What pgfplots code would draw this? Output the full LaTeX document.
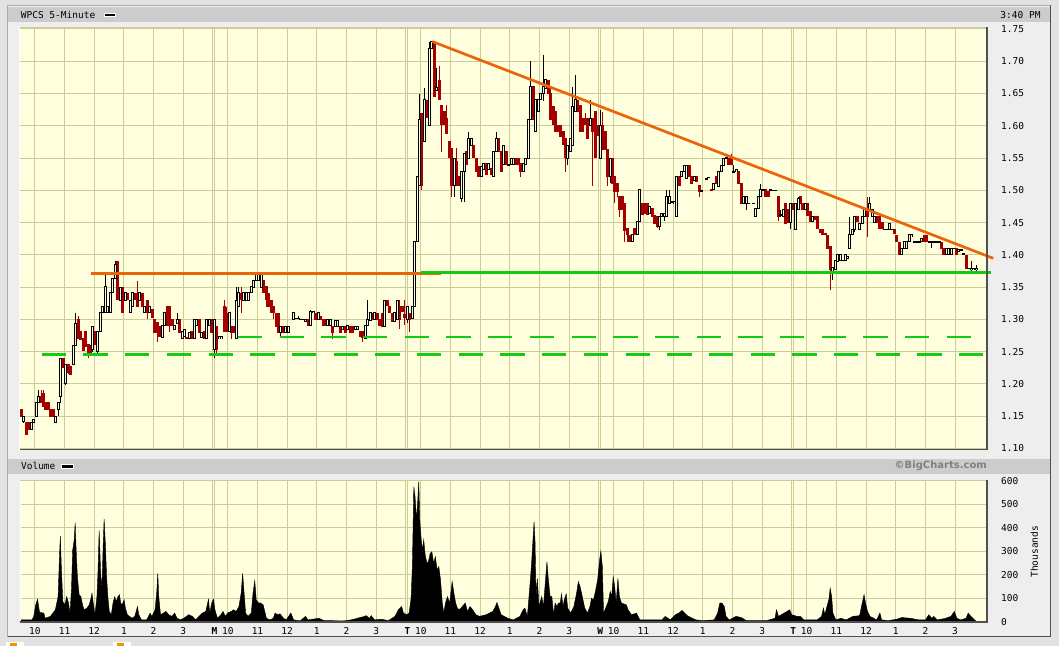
\documentclass[border=0pt]{standalone}
\usepackage{fontspec}
\setmainfont{DejaVu Sans Mono}
\newfontfamily\dvs{DejaVu Sans}
\usepackage{pgfplots}
\usepackage{pgfplotstable}
\pgfplotsset{compat=1.18}

\definecolor{bgy}{RGB}{255,255,222}
\definecolor{gridc}{RGB}{204,204,153}
\definecolor{hdr}{RGB}{204,204,204}
\definecolor{frm}{RGB}{238,238,238}
\definecolor{pagec}{RGB}{226,226,226}
\definecolor{ored}{RGB}{236,100,10}
\definecolor{gre}{RGB}{17,204,17}
\definecolor{cred}{RGB}{165,0,0}
\definecolor{dkf}{RGB}{80,80,80}
\definecolor{ltf}{RGB}{170,170,170}

% up candles: b o h l c  (o<=c)
\pgfplotstableread{
b o h l c
1 1.142 1.150 1.140 1.150
4 1.129 1.140 1.129 1.140
5 1.140 1.145 1.140 1.145
6 1.150 1.171 1.150 1.171
7 1.171 1.191 1.171 1.181
14 1.140 1.150 1.140 1.150
15 1.160 1.171 1.150 1.171
16 1.181 1.240 1.171 1.240
18 1.200 1.230 1.199 1.230
21 1.230 1.260 1.230 1.260
22 1.260 1.310 1.260 1.294
29 1.253 1.289 1.250 1.289
31 1.251 1.281 1.248 1.281
32 1.281 1.310 1.281 1.310
33 1.310 1.320 1.310 1.320
34 1.310 1.369 1.310 1.351
35 1.310 1.320 1.310 1.320
36 1.310 1.341 1.310 1.341
37 1.341 1.364 1.341 1.364
38 1.364 1.390 1.364 1.385
40 1.330 1.350 1.330 1.350
42 1.330 1.341 1.330 1.341
44 1.310 1.330 1.310 1.330
45 1.320 1.341 1.320 1.341
48 1.330 1.341 1.330 1.341
50 1.310 1.320 1.310 1.320
52 1.310 1.320 1.310 1.320
57 1.272 1.290 1.272 1.290
58 1.290 1.311 1.290 1.311
62 1.284 1.290 1.284 1.290
63 1.294 1.310 1.294 1.300
65 1.271 1.281 1.271 1.281
66 1.274 1.284 1.274 1.284
68 1.270 1.280 1.270 1.280
70 1.270 1.300 1.270 1.300
71 1.290 1.300 1.290 1.300
73 1.272 1.280 1.272 1.280
75 1.270 1.300 1.270 1.300
76 1.290 1.300 1.290 1.300
78 1.253 1.300 1.240 1.300
80 1.270 1.273 1.270 1.273
81 1.271 1.273 1.271 1.273
84 1.281 1.310 1.281 1.310
87 1.270 1.350 1.270 1.330
88 1.320 1.350 1.320 1.341
90 1.330 1.341 1.330 1.341
91 1.330 1.343 1.330 1.341
92 1.330 1.341 1.330 1.341
93 1.341 1.351 1.341 1.351
94 1.350 1.361 1.350 1.361
95 1.361 1.371 1.361 1.369
96 1.361 1.371 1.361 1.369
97 1.350 1.369 1.350 1.369
105 1.280 1.289 1.271 1.289
107 1.280 1.289 1.280 1.289
108 1.280 1.289 1.280 1.289
110 1.300 1.310 1.300 1.310
111 1.302 1.302 1.302 1.302
112 1.302 1.306 1.300 1.302
113 1.300 1.300 1.300 1.300
114 1.300 1.300 1.300 1.300
115 1.297 1.300 1.297 1.300
117 1.290 1.315 1.290 1.312
118 1.310 1.312 1.310 1.312
120 1.300 1.310 1.300 1.310
124 1.290 1.300 1.290 1.300
125 1.290 1.300 1.290 1.300
127 1.289 1.299 1.289 1.299
128 1.289 1.299 1.289 1.299
130 1.284 1.289 1.284 1.289
132 1.284 1.290 1.284 1.290
135 1.284 1.289 1.284 1.289
136 1.284 1.289 1.284 1.289
139 1.271 1.290 1.271 1.290
140 1.290 1.330 1.290 1.300
141 1.299 1.310 1.299 1.310
143 1.300 1.310 1.300 1.310
147 1.289 1.330 1.289 1.330
151 1.297 1.310 1.297 1.310
152 1.300 1.330 1.300 1.330
156 1.300 1.320 1.295 1.320
158 1.302 1.320 1.302 1.320
159 1.320 1.420 1.320 1.420
160 1.420 1.521 1.420 1.521
161 1.508 1.650 1.508 1.609
163 1.576 1.658 1.576 1.640
165 1.600 1.730 1.600 1.720
166 1.720 1.730 1.720 1.730
168 1.655 1.690 1.655 1.660
175 1.508 1.550 1.490 1.550
178 1.488 1.529 1.482 1.529
179 1.529 1.557 1.482 1.557
181 1.550 1.591 1.550 1.580
182 1.570 1.580 1.570 1.580
186 1.521 1.537 1.521 1.537
187 1.532 1.542 1.532 1.542
189 1.532 1.542 1.532 1.542
191 1.521 1.560 1.521 1.560
192 1.560 1.591 1.560 1.580
195 1.540 1.570 1.540 1.570
197 1.540 1.540 1.540 1.540
198 1.540 1.550 1.540 1.550
199 1.540 1.550 1.540 1.550
203 1.529 1.542 1.529 1.542
204 1.540 1.550 1.540 1.550
205 1.550 1.609 1.550 1.609
206 1.609 1.700 1.609 1.661
208 1.591 1.640 1.591 1.640
209 1.622 1.640 1.622 1.640
210 1.640 1.650 1.640 1.650
211 1.650 1.710 1.638 1.661
212 1.658 1.671 1.658 1.671
221 1.550 1.570 1.540 1.570
222 1.560 1.580 1.560 1.580
223 1.570 1.660 1.570 1.630
224 1.622 1.679 1.622 1.640
230 1.601 1.640 1.601 1.612
234 1.550 1.625 1.550 1.600
238 1.521 1.550 1.511 1.550
247 1.420 1.431 1.420 1.431
249 1.431 1.452 1.431 1.452
250 1.452 1.501 1.452 1.501
254 1.464 1.475 1.464 1.475
258 1.444 1.459 1.438 1.459
259 1.459 1.464 1.459 1.464
260 1.459 1.464 1.452 1.464
261 1.459 1.501 1.459 1.490
262 1.480 1.501 1.480 1.490
263 1.482 1.482 1.482 1.482
264 1.480 1.482 1.480 1.482
265 1.459 1.521 1.459 1.521
267 1.521 1.529 1.521 1.529
268 1.529 1.539 1.529 1.539
269 1.519 1.539 1.519 1.539
272 1.516 1.521 1.516 1.521
275 1.499 1.499 1.499 1.499
277 1.518 1.518 1.518 1.518
278 1.520 1.520 1.520 1.520
280 1.501 1.511 1.501 1.511
282 1.506 1.529 1.506 1.529
283 1.529 1.539 1.529 1.539
284 1.539 1.550 1.539 1.550
285 1.550 1.553 1.550 1.551
288 1.529 1.539 1.529 1.529
289 1.529 1.532 1.529 1.532
292 1.480 1.490 1.480 1.490
293 1.480 1.490 1.470 1.490
294 1.480 1.480 1.480 1.480
296 1.480 1.480 1.480 1.480
297 1.459 1.472 1.459 1.472
298 1.472 1.490 1.472 1.490
299 1.490 1.510 1.490 1.501
300 1.500 1.501 1.500 1.501
303 1.500 1.501 1.500 1.501
304 1.500 1.500 1.500 1.500
305 1.500 1.500 1.500 1.500
307 1.462 1.470 1.459 1.462
308 1.459 1.470 1.459 1.470
311 1.450 1.480 1.440 1.480
313 1.440 1.480 1.440 1.480
314 1.470 1.490 1.470 1.488
317 1.470 1.480 1.470 1.480
320 1.452 1.460 1.452 1.460
328 1.374 1.380 1.361 1.380
329 1.377 1.392 1.377 1.392
330 1.390 1.400 1.390 1.400
331 1.392 1.400 1.392 1.400
332 1.392 1.392 1.392 1.392
333 1.392 1.400 1.392 1.400
334 1.395 1.398 1.395 1.398
335 1.410 1.459 1.410 1.431
336 1.431 1.440 1.431 1.440
337 1.440 1.459 1.436 1.459
339 1.440 1.449 1.440 1.449
340 1.449 1.459 1.449 1.459
341 1.459 1.470 1.459 1.470
343 1.470 1.490 1.470 1.480
344 1.459 1.470 1.459 1.470
345 1.450 1.459 1.450 1.459
349 1.440 1.440 1.440 1.440
350 1.440 1.440 1.440 1.440
351 1.440 1.449 1.440 1.449
352 1.440 1.440 1.440 1.440
356 1.400 1.410 1.400 1.410
357 1.410 1.420 1.410 1.420
358 1.410 1.420 1.410 1.420
359 1.420 1.431 1.420 1.431
360 1.428 1.431 1.428 1.431
361 1.420 1.420 1.420 1.420
362 1.420 1.420 1.420 1.420
363 1.420 1.420 1.420 1.420
364 1.420 1.425 1.420 1.425
367 1.420 1.420 1.420 1.420
368 1.420 1.420 1.410 1.420
369 1.420 1.420 1.420 1.420
370 1.420 1.420 1.420 1.420
371 1.420 1.420 1.420 1.420
374 1.400 1.410 1.400 1.410
375 1.400 1.410 1.400 1.410
376 1.400 1.410 1.400 1.410
377 1.410 1.410 1.410 1.410
379 1.406 1.408 1.406 1.408
380 1.408 1.408 1.408 1.408
381 1.402 1.402 1.402 1.402
383 1.379 1.379 1.379 1.379
384 1.377 1.390 1.370 1.379
385 1.377 1.379 1.377 1.379
386 1.377 1.385 1.370 1.379
}\upT

% down candles: b o h l c  (o>c)
\pgfplotstableread{
b o h l c
0 1.160 1.160 1.150 1.150
2 1.140 1.140 1.121 1.121
3 1.140 1.140 1.129 1.129
8 1.181 1.191 1.171 1.171
9 1.186 1.191 1.165 1.165
10 1.171 1.171 1.160 1.160
11 1.171 1.171 1.160 1.160
12 1.160 1.160 1.150 1.150
13 1.160 1.160 1.150 1.150
17 1.240 1.240 1.225 1.225
19 1.230 1.230 1.215 1.217
20 1.228 1.228 1.215 1.215
23 1.300 1.305 1.270 1.270
24 1.281 1.281 1.269 1.269
25 1.271 1.271 1.251 1.251
26 1.281 1.281 1.258 1.258
27 1.261 1.261 1.240 1.248
28 1.260 1.260 1.245 1.245
30 1.281 1.281 1.261 1.261
39 1.390 1.390 1.330 1.330
41 1.350 1.350 1.311 1.311
43 1.341 1.341 1.330 1.330
46 1.341 1.341 1.330 1.330
47 1.330 1.360 1.320 1.320
49 1.341 1.341 1.320 1.320
51 1.330 1.330 1.300 1.310
53 1.315 1.315 1.303 1.303
54 1.300 1.300 1.280 1.280
55 1.295 1.295 1.265 1.280
56 1.290 1.290 1.274 1.274
59 1.320 1.320 1.290 1.290
60 1.320 1.320 1.280 1.290
61 1.300 1.300 1.290 1.290
64 1.300 1.300 1.279 1.279
67 1.272 1.272 1.270 1.270
69 1.281 1.281 1.270 1.270
72 1.300 1.300 1.280 1.280
74 1.281 1.281 1.270 1.270
77 1.300 1.300 1.280 1.280
79 1.290 1.290 1.243 1.253
82 1.320 1.330 1.281 1.281
83 1.310 1.320 1.281 1.281
85 1.289 1.289 1.270 1.279
86 1.289 1.289 1.279 1.279
89 1.341 1.350 1.310 1.330
98 1.361 1.361 1.341 1.341
99 1.351 1.351 1.320 1.330
100 1.341 1.341 1.320 1.320
101 1.330 1.330 1.310 1.310
102 1.321 1.321 1.300 1.310
103 1.310 1.310 1.289 1.289
104 1.310 1.310 1.280 1.280
106 1.289 1.289 1.280 1.280
116 1.300 1.300 1.290 1.290
119 1.310 1.310 1.299 1.299
121 1.305 1.305 1.299 1.299
122 1.300 1.300 1.290 1.290
123 1.300 1.300 1.290 1.290
126 1.290 1.290 1.270 1.280
129 1.290 1.290 1.280 1.280
131 1.290 1.290 1.280 1.280
133 1.290 1.290 1.280 1.280
134 1.290 1.290 1.280 1.280
137 1.281 1.281 1.273 1.273
138 1.281 1.281 1.265 1.271
142 1.310 1.310 1.299 1.299
144 1.310 1.310 1.300 1.300
145 1.300 1.300 1.290 1.290
146 1.310 1.310 1.289 1.289
148 1.330 1.330 1.321 1.321
149 1.321 1.321 1.310 1.310
150 1.310 1.310 1.297 1.297
153 1.320 1.330 1.285 1.300
154 1.321 1.321 1.312 1.312
155 1.308 1.330 1.291 1.302
157 1.310 1.310 1.281 1.300
162 1.620 1.620 1.500 1.508
164 1.640 1.640 1.612 1.612
167 1.728 1.728 1.645 1.645
169 1.671 1.692 1.640 1.640
170 1.632 1.632 1.560 1.601
171 1.622 1.622 1.601 1.601
172 1.612 1.632 1.588 1.588
173 1.576 1.576 1.550 1.550
174 1.565 1.565 1.490 1.508
176 1.545 1.565 1.508 1.508
177 1.521 1.521 1.508 1.508
180 1.560 1.560 1.540 1.540
183 1.570 1.570 1.550 1.550
184 1.550 1.550 1.529 1.529
185 1.537 1.537 1.521 1.521
188 1.542 1.542 1.524 1.524
190 1.534 1.534 1.524 1.524
193 1.580 1.580 1.560 1.560
194 1.560 1.560 1.529 1.529
196 1.560 1.560 1.540 1.540
200 1.550 1.550 1.540 1.540
201 1.550 1.550 1.540 1.540
202 1.542 1.542 1.521 1.529
207 1.661 1.661 1.609 1.609
213 1.670 1.670 1.650 1.650
214 1.650 1.660 1.609 1.609
215 1.630 1.630 1.601 1.601
216 1.622 1.622 1.591 1.591
217 1.601 1.601 1.591 1.591
218 1.601 1.601 1.583 1.583
219 1.591 1.591 1.570 1.570
220 1.580 1.580 1.529 1.550
225 1.640 1.640 1.622 1.622
226 1.632 1.632 1.591 1.591
227 1.612 1.612 1.591 1.591
228 1.612 1.620 1.601 1.601
229 1.612 1.612 1.580 1.580
231 1.612 1.612 1.506 1.591
232 1.622 1.622 1.550 1.550
233 1.601 1.601 1.585 1.585
235 1.601 1.622 1.563 1.563
236 1.591 1.591 1.563 1.563
237 1.563 1.563 1.506 1.521
239 1.550 1.550 1.511 1.511
240 1.521 1.521 1.480 1.498
241 1.511 1.511 1.490 1.498
242 1.490 1.490 1.459 1.470
243 1.490 1.490 1.470 1.470
244 1.480 1.480 1.420 1.438
245 1.441 1.441 1.420 1.431
246 1.431 1.431 1.420 1.420
248 1.441 1.441 1.431 1.431
251 1.480 1.480 1.462 1.462
252 1.480 1.480 1.464 1.464
253 1.480 1.480 1.462 1.462
255 1.472 1.472 1.459 1.459
256 1.462 1.462 1.449 1.449
257 1.459 1.459 1.441 1.444
266 1.521 1.521 1.508 1.508
270 1.539 1.539 1.521 1.521
271 1.521 1.521 1.510 1.511
273 1.521 1.521 1.514 1.514
274 1.508 1.508 1.490 1.498
279 1.502 1.502 1.500 1.500
281 1.521 1.521 1.511 1.511
286 1.550 1.550 1.539 1.539
287 1.550 1.557 1.539 1.539
290 1.529 1.529 1.511 1.511
291 1.511 1.511 1.480 1.480
301 1.501 1.501 1.490 1.490
302 1.498 1.498 1.490 1.490
306 1.490 1.490 1.452 1.459
309 1.480 1.480 1.449 1.449
310 1.470 1.470 1.450 1.450
312 1.480 1.480 1.470 1.470
315 1.490 1.490 1.480 1.480
316 1.480 1.480 1.470 1.470
318 1.480 1.480 1.460 1.460
319 1.467 1.467 1.452 1.452
321 1.460 1.460 1.455 1.455
322 1.459 1.459 1.440 1.440
323 1.440 1.440 1.434 1.434
324 1.440 1.440 1.431 1.431
325 1.434 1.434 1.431 1.431
326 1.431 1.431 1.410 1.410
327 1.413 1.413 1.345 1.377
338 1.459 1.459 1.452 1.452
342 1.470 1.490 1.428 1.459
346 1.459 1.459 1.450 1.450
347 1.459 1.459 1.440 1.440
348 1.450 1.450 1.440 1.440
353 1.440 1.440 1.433 1.433
354 1.431 1.431 1.420 1.420
355 1.420 1.420 1.400 1.400
365 1.431 1.431 1.420 1.420
366 1.431 1.431 1.420 1.420
372 1.420 1.420 1.410 1.410
373 1.410 1.410 1.400 1.400
378 1.410 1.410 1.400 1.400
382 1.400 1.400 1.379 1.379
}\dnT

% volume (thousands), x in 5-minute bars from first open
\pgfplotstableread{
x v
0 0
0.2 8
4.8 8
5.5 20
6.3 70
7.1 96
7.9 40
9.6 37
10.2 15
12.3 23
14.3 51
15.4 107
15.9 260
16.3 365
16.7 235
17.3 86
18.1 72
18.9 107
19.6 80
20.2 37
20.8 136
21.3 305
21.9 348
22.3 422
22.7 305
23.2 192
23.9 115
24.6 107
25.3 72
25.9 51
27 58
28 72
28.7 100
29.1 122
29.6 80
30.3 30
31.1 107
31.5 206
32 388
32.6 210
33.1 136
33.6 320
34 437
34.5 334
35 192
35.5 107
36.1 44
36.9 30
37.6 80
38.3 107
38.9 86
39.6 107
40.2 115
40.7 80
41.2 72
42.1 93
42.6 58
43.4 30
45.3 15
46.4 23
47.5 65
48 30
49.1 8
51.2 8
52.6 37
53.3 23
54.6 51
55.3 129
55.7 206
56.1 107
56.8 30
58 37
59 44
60.1 30
61.4 23
62.5 37
63.5 15
64.8 8
66.2 15
68.2 30
69.7 23
71 8
72.4 23
73.7 37
75.1 44
76.2 96
76.7 37
77.5 80
78.2 96
78.8 51
79.8 15
81.2 30
82.1 44
83 23
83.9 37
85.4 44
86.3 51
87.4 44
88.5 65
89.4 122
90 206
90.5 136
91.2 37
92.2 23
93.5 37
94.2 122
94.9 175
95.5 93
96.4 80
97.2 80
98.3 72
99.6 15
101.1 8
102.4 15
103.1 37
104.1 30
105.1 34
106.5 15
107.6 8
109.5 37
110.6 8
113.3 4
115.4 23
116.4 8
120.8 15
122.9 5
131 4
133.8 8
139.3 23
139.9 26
141.3 15
142 26
143.3 8
146 11
148.9 5
151.6 23
152.9 51
154.3 65
155 37
156.3 30
157.3 37
158.1 100
158.6 235
159.2 575
159.7 532
160.3 433
160.8 518
161.2 596
161.6 433
162.2 348
162.7 305
163.2 348
163.8 284
164.5 249
165.1 256
165.8 291
166.5 298
167.2 249
167.9 277
168.6 220
169.3 235
170 178
170.7 80
171.3 37
172 80
172.8 107
173.7 80
174.7 171
175.4 122
176.1 80
176.8 58
177.5 51
178.8 65
180 80
180.9 44
181.9 65
183 51
184.3 30
185.7 23
188.4 30
191.1 44
192.2 65
192.8 82
193.6 58
194.5 30
197.2 15
199.4 8
202.1 23
203.4 51
204.1 58
205.1 23
206.2 164
206.8 250
207.8 426
208.2 341
208.6 107
209.1 185
209.8 65
210.9 107
211.6 65
213 256
213.6 178
214.3 107
215 107
215.7 30
216.3 80
217 65
217.7 80
218.4 80
218.9 119
219.5 65
220 93
220.8 119
221.4 58
222.6 37
223.9 65
225 122
225.7 171
226.4 150
227.3 107
228.3 58
229.4 37
230.4 65
231 100
231.8 93
232.6 129
233.5 178
234.3 263
234.8 301
235.4 235
235.9 37
237 65
237.8 86
238.6 129
239.2 107
239.8 192
240.4 150
241 80
241.7 185
242.3 107
243.1 80
245.1 72
245.8 51
247.2 30
249.2 37
250.6 8
259.5 8
260.8 23
262.9 8
264.9 30
266.3 37
267.6 48
269.7 26
273.2 8
275.9 5
280.6 8
282 37
282.9 80
283.7 80
284.7 65
285.4 23
286.7 8
289.5 23
291.6 18
293.6 5
301.8 5
305.2 15
305.8 51
306.6 23
308.9 37
310 44
311.1 51
312 30
314.1 23
315.5 23
316.8 8
322.3 8
324 23
324.8 58
325.3 30
326.2 65
327 96
327.5 143
328.1 107
328.6 37
329.8 8
331.9 15
333.9 8
336.7 23
339.4 26
340.3 72
341.2 115
341.8 80
342.6 44
343.6 23
346.3 8
347.6 37
348.3 8
351 5
354.4 11
356.5 18
359.9 15
363.3 8
366 8
367.4 30
368.5 15
369.4 23
370.8 8
374.3 15
376.3 23
377.7 44
378.7 15
380.3 8
382.4 15
383.3 37
384.4 23
385.8 8
386.9 0
}\volT

\pgfplotsset{
  bcaxis/.style={
    scale only axis, width=967pt, xmin=0, xmax=390.9,
    axis background/.style={fill=bgy},
    axis line style={draw=none},
    major tick length=0pt,
    xmajorgrids, ymajorgrids,
    major grid style={draw=gridc, line width=1pt},
    xtick={6,18,30,42,54,66,78,78.8,84,96,108,120,132,144,156,156.8,162,174,186,198,210,222,234,234.8,240,252,264,276,288,300,312,312.8,318,330,342,354,366,378},
    yticklabel pos=right,
    yticklabel style={anchor=west, inner sep=0pt, xshift=14pt},
    ticklabel style={font=\fontsize{9.5}{11}\selectfont},
    /pgf/number format/assume math mode=true,
    clip=false,
  },
  wick/.style={only marks, mark=none, mark size=0pt, mark options={draw=none, fill=none}, forget plot,
    error bars/.cd, y dir=both, y explicit, error mark=none,
    error bar style={line width=1pt, draw=#1, fill=none}},
  body/.style 2 args={only marks, mark=none, mark size=0pt, mark options={draw=none, fill=none}, forget plot,
    error bars/.cd, y dir=both, y explicit, error mark=none,
    error bar style={line width=#2, draw=#1, fill=none, line cap=butt}},
}

\begin{document}
\begin{tikzpicture}[x=1pt,y=1pt, font=\fontsize{9.5}{11}\selectfont]
% page and frame
\fill[pagec] (0,0) rectangle (1059,646);
\fill[frm] (7,9) rectangle (1050,641);
\draw[ltf, line width=1pt] (7.5,9) -- (7.5,640.5) -- (1050,640.5);
\draw[dkf, line width=1.2pt] (7.5,9.4) -- (1050.4,9.4) -- (1050.4,641);
% header bars
\fill[hdr] (8,624) rectangle (1049.5,638.7);
\fill[hdr] (8,172.5) rectangle (1049.5,187);
\node[anchor=west, inner sep=0pt] at (20.7,631.3) {WPCS 5-Minute};
\fill[white] (103.7,629.3) rectangle (115.7,633.3);
\fill[black] (104.7,630.3) rectangle (114.7,632.3);
\node[anchor=east, inner sep=0pt] at (1040.7,631.3) {3:40 PM};
\node[anchor=west, inner sep=0pt] at (20.9,180) {Volume};
\fill[white] (61,177.3) rectangle (73.6,181.7);
\fill[black] (62,178.3) rectangle (72.6,180.7);
\node[anchor=east, inner sep=0pt, text={rgb,255:red,128;green,128;blue,128}, font=\dvs\bfseries\fontsize{10}{12}\selectfont] at (987,180) {©BigCharts.com};
\node[rotate=90, inner sep=0pt] at (1034.3,94.3) {Thousands};
% bottom icons
\fill[white] (6,0) rectangle (24,4.3);
\fill[ored!70!yellow] (10,0) rectangle (16.5,3.4);
\fill[white] (113,0) rectangle (131,4.3);
\fill[ored!70!yellow] (117,0) rectangle (123.5,3.4);

% ---------------- price panel ----------------
\begin{axis}[bcaxis, at={(20pt,196.5pt)}, anchor=south west, height=422pt,
  ymin=1.0985, ymax=1.7523, xticklabels={},
  ytick={1.10,1.15,1.20,1.25,1.30,1.35,1.40,1.45,1.50,1.55,1.60,1.65,1.70,1.75},
  yticklabel style={/pgf/number format/.cd, fixed, fixed zerofill, precision=2}]
\addplot[wick=cred] table[x expr=\thisrow{b}+0.5, y expr=(\thisrow{h}+\thisrow{l})/2, y error expr=(\thisrow{h}-\thisrow{l})/2] {\dnT};
\addplot[wick=black] table[x expr=\thisrow{b}+0.5, y expr=(\thisrow{h}+\thisrow{l})/2, y error expr=(\thisrow{h}-\thisrow{l})/2] {\upT};
\addplot[body={cred}{3pt}] table[x expr=\thisrow{b}+0.5, y expr=(\thisrow{o}+\thisrow{c})/2, y error expr=(\thisrow{o}-\thisrow{c})/2+0.0005] {\dnT};
\addplot[body={black}{3pt}] table[x expr=\thisrow{b}+0.5, y expr=(\thisrow{o}+\thisrow{c})/2, y error expr=(\thisrow{c}-\thisrow{o})/2+0.00078] {\upT};
\addplot[body={bgy}{1pt}] table[x expr=\thisrow{b}+0.5, y expr=(\thisrow{o}+\thisrow{c})/2, y error expr={max(0,(\thisrow{c}-\thisrow{o})/2-0.00078)}] {\upT};
% support / resistance lines
\addplot[gre, line width=2.7pt, dash pattern=on 24.3pt off 17.4pt, forget plot] coordinates {(8.8,1.2454) (390.9,1.2454)};
\addplot[gre, line width=2.7pt, dash pattern=on 24.3pt off 17.4pt, forget plot] coordinates {(88.1,1.2727) (390.9,1.2727)};
\addplot[ored, line width=2.7pt, forget plot] coordinates {(28.6,1.3714) (170,1.3714)};
\addplot[gre, line width=2.7pt, forget plot] coordinates {(162,1.3732) (392.5,1.3732)};
\addplot[ored, line width=2.7pt, forget plot] coordinates {(166.7,1.7305) (393.4,1.3947)};
\draw[white, line width=1pt] (rel axis cs:0,0) -- (rel axis cs:0,1);
\draw[gridc, line width=1pt] (rel axis cs:0,1) -- (rel axis cs:1,1);
\draw[dkf, line width=1.2pt] (rel axis cs:1,1) -- (rel axis cs:1,0) -- (rel axis cs:0,0);
\end{axis}

% ---------------- volume panel ----------------
\begin{axis}[bcaxis, at={(20pt,24pt)}, anchor=south west, height=142pt,
  ymin=-1, ymax=603, ytick={0,100,200,300,400,500,600},
  xticklabels={10,11,12,1,2,3,{},{},10,11,12,1,2,3,{},{},10,11,12,1,2,3,{},{},10,11,12,1,2,3,{},{},10,11,12,1,2,3},
  xticklabel style={anchor=center, inner sep=0pt, yshift=-8.7pt},
  extra x ticks={78.6,156.6,234.6,312.6},
  extra x tick labels={\textbf{M},\textbf{T},\textbf{W},\textbf{T}},
  extra x tick style={grid=none}]
\addplot[fill=black, draw=black, line width=0.4pt] table[x=x, y=v] {\volT} \closedcycle;
\draw[white, line width=1pt] (rel axis cs:0,0) -- (rel axis cs:0,1);
\draw[gridc, line width=1pt] (rel axis cs:0,1) -- (rel axis cs:1,1);
\draw[dkf, line width=1.2pt] (rel axis cs:1,1) -- (rel axis cs:1,0) -- (rel axis cs:0,0);
\end{axis}
\pgfresetboundingbox
\path[use as bounding box] (0,0) rectangle (1059,646);
\end{tikzpicture}
\end{document}
